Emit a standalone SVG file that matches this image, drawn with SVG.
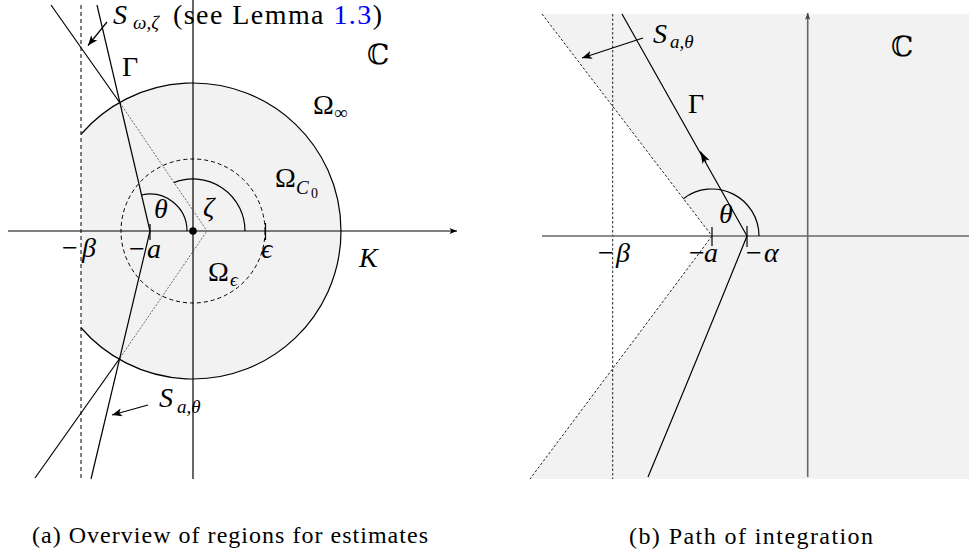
<svg xmlns="http://www.w3.org/2000/svg" width="969" height="556" viewBox="0 0 969 556">
<style>
text{font-family:"Liberation Serif","DejaVu Serif",serif;fill:#000}
.m{font-size:28px}
.i{font-style:italic}
.s{font-size:19px}
.cap{font-size:24px}
.ln{stroke:#000;stroke-width:1.2;fill:none}
.dash{stroke:#000;stroke-width:1;fill:none;stroke-dasharray:4,3}
.dot{stroke:#444;stroke-width:0.8;fill:none;stroke-dasharray:2,1.5}
.rdot{stroke:#222;stroke-width:1;fill:none;stroke-dasharray:2.5,2}
.gax{stroke:#666;stroke-width:1.6;fill:none}
</style>
<defs>
<marker id="ah" viewBox="0 0 10 8" refX="10" refY="4" markerWidth="10" markerHeight="8" markerUnits="userSpaceOnUse" orient="auto"><path d="M0,0 L10,4 L0,8 L2.5,4 z" fill="#000"/></marker>
<marker id="ahs" viewBox="0 0 10 8" refX="10" refY="4" markerWidth="9" markerHeight="6" markerUnits="userSpaceOnUse" orient="auto"><path d="M0,0 L10,4 L0,8 L2.5,4 z" fill="#000"/></marker>
<marker id="ahg" viewBox="0 0 10 8" refX="10" refY="4" markerWidth="7" markerHeight="5.5" markerUnits="userSpaceOnUse" orient="auto"><path d="M0,0 L10,4 L0,8 L2.5,4 z" fill="#444"/></marker>
<marker id="ahb" viewBox="0 0 12 8" refX="12" refY="4" markerWidth="13" markerHeight="8" markerUnits="userSpaceOnUse" orient="auto"><path d="M0,0 L12,4 L0,8 L3,4 z" fill="#000"/></marker>
</defs>

<g id="panel-a">
  <g id="regions-a">
    <path d="M81,134.25 A148,148 0 1 1 81,327.75 Z" fill="#f2f2f2" stroke="none"/>
    <path d="M81,134.25 A148,148 0 1 1 81,327.75" class="ln"/>
    <circle cx="193" cy="231" r="72" class="dash"/>
    <line x1="81" y1="5" x2="81" y2="478" class="dash"/>
  </g>
  <g id="axes-a">
    <line x1="8" y1="231" x2="457" y2="231" class="ln" marker-end="url(#ahs)"/>
    <line x1="193" y1="0" x2="193" y2="479" class="ln"/>
    <circle cx="193" cy="231" r="3.8" fill="#000"/>
    <line x1="150" y1="224" x2="150" y2="240" class="ln"/>
    <line x1="265.5" y1="223" x2="265.5" y2="240" class="ln"/>
  </g>
  <g id="connectors-a">
    <line x1="51" y1="5" x2="120" y2="103" class="ln"/>
    <line x1="120" y1="103" x2="207" y2="231" class="dot"/>
    <line x1="35" y1="478" x2="120" y2="358" class="ln"/>
    <line x1="120" y1="358" x2="207" y2="231" class="dot"/>
    <line x1="97" y1="5" x2="150" y2="231" class="ln"/>
    <line x1="150" y1="231" x2="91" y2="479" class="ln"/>
    <path d="M245,231 A52,52 0 0 0 173.9,182.6" class="ln"/>
    <path d="M187,231 A37,37 0 0 0 141.6,195" class="ln"/>
    <line x1="107" y1="22" x2="88" y2="45.5" class="ln" marker-end="url(#ah)"/>
    <line x1="148" y1="405" x2="112" y2="415" class="ln" marker-end="url(#ah)"/>
  </g>
  <g id="labels-a">
    <text x="113" y="24" class="m i">S</text>
    <text x="133" y="29" class="s i">ω,ζ</text>
    <text x="173" y="24" class="m" textLength="209" lengthAdjust="spacing">(see Lemma <tspan fill="#0000ff">1.3</tspan>)</text>
    <text x="122" y="76" class="m">Γ</text>
    <text x="367" y="64" class="m">ℂ</text>
    <text x="313" y="114" class="m">Ω</text>
    <text x="334" y="119" class="s">∞</text>
    <text x="275" y="187" class="m">Ω</text>
    <text x="296" y="194" class="s i">C</text>
    <text x="311" y="198" font-size="14">0</text>
    <text x="154" y="218" class="m i">θ</text>
    <text x="203" y="216" class="m i">ζ</text>
    <text x="62" y="257" class="m">−<tspan x="82" class="i">β</tspan></text>
    <text x="129" y="258" class="m">−<tspan x="147" class="i">a</tspan></text>
    <text x="261" y="258" class="m i">ϵ</text>
    <text x="359" y="267" class="m i">K</text>
    <text x="208" y="281" class="m">Ω</text>
    <text x="230" y="286" class="s i">ϵ</text>
    <text x="159" y="407" class="m i">S</text>
    <text x="177" y="413" class="s i">a,θ</text>
  </g>
  <text id="caption-a" x="32" y="543" class="cap" textLength="396" lengthAdjust="spacing">(a) Overview of regions for estimates</text>
</g>

<g id="panel-b">
  <g id="regions-b">
    <polygon points="542,14 969,14 969,479 530,479 712,236" fill="#f2f2f2"/>
    <line x1="612.7" y1="14" x2="612.7" y2="479" class="rdot" stroke="#555"/>
    <line x1="542" y1="14" x2="712" y2="236" class="rdot"/>
    <line x1="712" y1="236" x2="530" y2="479" class="rdot"/>
  </g>
  <g id="axes-b">
    <line x1="542" y1="236" x2="969" y2="236" class="gax"/>
    <line x1="807.7" y1="477" x2="807.7" y2="13" class="gax" marker-end="url(#ahg)"/>
    <line x1="712" y1="227" x2="712" y2="246" class="ln"/>
    <line x1="747" y1="226" x2="747" y2="247" class="ln"/>
  </g>
  <g id="connectors-b">
    <path d="M622,14 L747,236 Q703,345 648,477" class="ln"/>
    <line x1="706" y1="162" x2="700.5" y2="151.5" class="ln" marker-end="url(#ahb)"/>
    <path d="M759,236 A47,47 0 0 0 683.4,198.7" class="ln"/>
    <line x1="643" y1="38" x2="582" y2="58" class="ln" marker-end="url(#ah)"/>
  </g>
  <g id="labels-b">
    <text x="653" y="43" class="m i">S</text>
    <text x="670" y="48" class="s i">a,θ</text>
    <text x="891" y="56" class="m">ℂ</text>
    <text x="688" y="113" class="m">Γ</text>
    <text x="719" y="223" class="m i">θ</text>
    <text x="598" y="262" class="m">−<tspan x="616" class="i">β</tspan></text>
    <text x="689" y="262" class="m">−<tspan x="704" class="i">a</tspan></text>
    <text x="746" y="262" class="m">−<tspan x="764" class="i">α</tspan></text>
  </g>
  <text id="caption-b" x="629" y="544" class="cap" textLength="244" lengthAdjust="spacing">(b) Path of integration</text>
</g>
</svg>
